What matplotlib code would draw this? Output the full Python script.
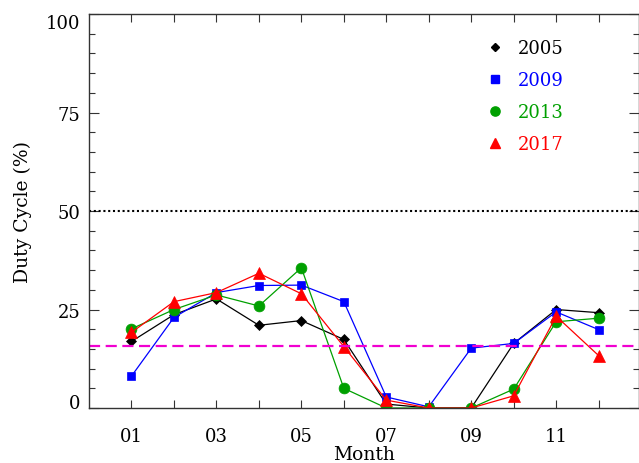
import numpy
import matplotlib
matplotlib.use('Agg')
from matplotlib import pyplot as plt
from matplotlib.lines import Line2D

#Data

months = numpy.arange(1, 13)
years = ['2005', '2009', '2013', '2017']
duty_2005 = [16.9, 23.7, 27.7, 21.0, 22.2, 17.4, 1.0, 0.0, 0.0, 16.4, 25.0, 24.2]
duty_2009 = [8.1, 23.0, 29.3, 31.1, 31.2, 27.0, 2.8, 0.3, 15.2, 16.4, 24.4, 19.9]
duty_2013 = [20.1, 25.0, 28.7, 25.9, 35.6, 5.0, 0.0, 0.0, 0.0, 4.8, 21.9, 22.8]
duty_2017 = [19.2, 27.0, 29.3, 34.2, 29.0, 15.6, 2.0, 0.0, 0.0, 3.1, 23.3, 13.3]
ref_level = 50
mean_level = 15.8
xtick_labels = ['01', '03', '05', '07', '09', '11']

#Plot

plt.rcParams['font.family'] = 'DejaVu Serif'
fig = plt.figure(figsize=(6.39, 4.64), dpi=100)
ax = fig.add_axes([0.1393, 0.1185, 0.8607, 0.849])

styles = [('black', 'D', 4.6), ('blue', 's', 6.2), ('#00a000', 'o', 7.8), ('red', '^', 8.6)]
series = [duty_2005, duty_2009, duty_2013, duty_2017]
for vals, (c, m, ms) in zip(series, styles):
    ax.plot(months, vals, color=c, lw=0.9, marker=m, ms=ms, mec=c, mfc=c, mew=0.5)

ax.axhline(ref_level, color='black', ls=(0, (1, 1.3)), lw=1.5)
ax.axhline(mean_level, color='#f000d0', ls=(0, (5, 2.5)), lw=1.6)

ax.set_xlim(0, 12.95)
ax.set_ylim(0, 100)
ax.set_xticks(months)
ax.set_xticklabels([xtick_labels[(i - 1) // 2] if i % 2 == 1 else '' for i in months])
ax.set_yticks([0, 25, 50, 75, 100])
ax.set_yticks(numpy.arange(0, 101, 5), minor=True)
ax.tick_params(which='both', direction='in', top=True, right=True, labelsize=13, color='#333333')
ax.tick_params(axis='y', which='major', length=7.5, width=0.8, pad=6)
ax.tick_params(axis='y', which='minor', length=4, width=0.8)
ax.tick_params(axis='x', which='major', length=5.5, width=0.8, pad=14)
ylabs = ax.get_yticklabels()
ylabs[0].set_va('baseline')
ylabs[-1].set_va('top')
for s in ax.spines.values():
    s.set_linewidth(1.0)
    s.set_color('#333333')
ax.set_xlabel('Month', fontsize=13.5, labelpad=0)
ax.set_ylabel('Duty Cycle (%)', fontsize=13.5, labelpad=10)

handles = [Line2D([], [], ls='none', marker=m, color=c, ms=ms * 0.85) for c, m, ms in styles]
leg = ax.legend(handles, years, loc='upper left', bbox_to_anchor=(0.692, 0.978), frameon=False,
                fontsize=13, labelcolor=[c for c, m, ms in styles], handletextpad=0.75,
                labelspacing=0.78, handlelength=1.0)

fig.savefig('out.png', dpi=100)
